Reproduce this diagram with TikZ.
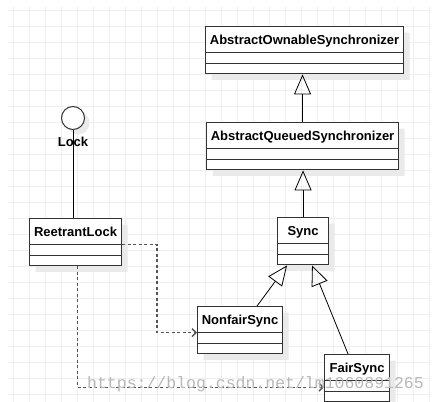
\documentclass[tikz,border=0pt]{standalone}
\usepackage{fontspec}
\setmainfont{Liberation Sans}
\newfontfamily\wmfont{Liberation Mono}
\usetikzlibrary{arrows.meta,shapes.multipart,shadows}
\definecolor{boxline}{HTML}{333333}
\definecolor{depline}{HTML}{555555}
\definecolor{gridc}{HTML}{EFEFEF}
\definecolor{shade}{HTML}{EAEAEA}
\newcommand{\clsname}[1]{\rule[-8pt]{0pt}{25pt}#1}
\newcommand{\clsrows}{\nodepart{two}\rule{0pt}{9.5pt}\nodepart{three}\rule{0pt}{9.5pt}}

\begin{document}
\begin{tikzpicture}[x=1pt,y=-1pt,
	every node/.style={font=\fontsize{13}{15}\selectfont\bfseries},
	cls/.style={draw=boxline, line width=1.1pt, fill=white, rectangle split, rectangle split parts=3, inner xsep=0pt, inner ysep=0pt, align=center, anchor=north west, drop shadow={shadow xshift=6pt, shadow yshift=-6pt, fill=shade, opacity=1}},
	inherit/.style={-{Triangle[open,length=20pt,width=17pt]}, line width=0.8pt},
	dep/.style={-{Straight Barb[length=4pt,width=8pt]}, dash pattern=on 3pt off 2.5pt, line width=1.4pt, draw=depline}]
	
	\useasboundingbox (0,0) rectangle (440,402);
	\fill[white] (0,0) rectangle (440,402);
	\foreach \gx in {13,29,...,429} \draw[gridc, line width=1pt] (\gx,7) -- (\gx,402);
	\foreach \gy in {10,26,...,394} \draw[gridc, line width=1pt] (8,\gy) -- (429,\gy);
	
	\node[cls, text width=198pt] (aos) at (205,26) {\clsname{AbstractOwnableSynchronizer}\clsrows};
	\node[cls, text width=192pt] (aqs) at (206,122) {\clsname{AbstractQueuedSynchronizer}\clsrows};
	\node[cls, text width=51pt] (sync) at (277,217) {\clsname{Sync}\clsrows};
	\node[cls, text width=85pt] (nfs) at (197,306) {\clsname{NonfairSync}\clsrows};
	\node[cls, text width=65pt] (fs) at (324,354) {\clsname{FairSync}\clsrows};
	\node[cls, text width=92pt] (rl) at (29,218) {\clsname{ReetrantLock}\clsrows};
	
	\node[circle, draw=boxline, line width=1pt, fill=white, minimum size=23pt, inner sep=0pt, drop shadow={shadow xshift=5pt, shadow yshift=-5pt, fill=shade, opacity=1}] (lock) at (73,118) {};
	\draw[line width=0.8pt] (lock.south) -- (lock.south |- rl.north);
	\node (locklbl) at (73,142) {Lock};
	
	\draw[inherit] (aqs.north) -- (aqs.north |- aos.south);
	\draw[inherit] (sync.north) -- (sync.north |- aqs.south);
	\draw[inherit] ([xshift=17pt]nfs.north) -- ([xshift=-16pt]sync.south);
	\draw[inherit] ([xshift=-9pt]fs.north) -- ([xshift=9pt]sync.south);
	
	\draw[dep] (rl.one split east) -| ([xshift=-40pt]nfs.one split west) -- (nfs.one split west);
	\draw[dep] ([xshift=2pt]rl.south) |- ([yshift=-9pt]fs.west);
	
	\node[font=\wmfont\fontsize{16.5}{18}\selectfont, text=black!28, anchor=base west, inner sep=0pt] (wm) at (87,388) {https://blog.csdn.net/lm1060891265};
	
\end{tikzpicture}
\end{document}
